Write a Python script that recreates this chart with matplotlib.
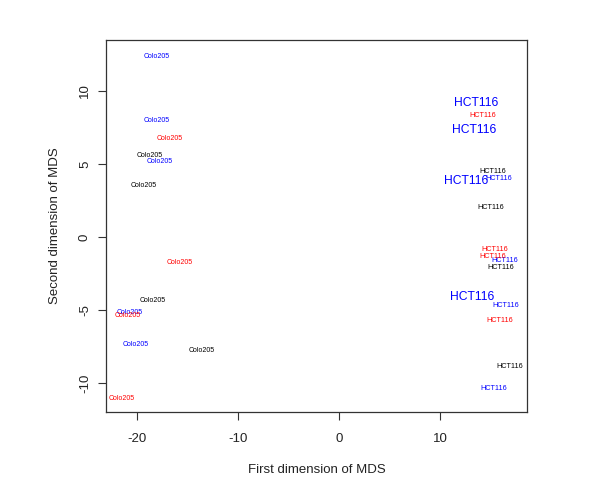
import matplotlib
matplotlib.use("Agg")
import matplotlib.pyplot as plt

plt.rcParams['font.family'] = ['Liberation Sans', 'DejaVu Sans']
plt.rcParams['axes.unicode_minus'] = False

# Colo205 samples
colo_x = [-18.1, -18.05, -17.8, -20.7, -20.1, -16.8, -15.8, -20.9, -21.5, -18.8, -19.4, -18.5, -13.6]
colo_y = [12.4, 8.0, 5.14, -5.2, -7.35, 6.76, -1.73, -5.4, -11.07, 5.6, 3.5, -4.38, -7.8]
colo_col = ['blue', 'blue', 'blue', 'blue', 'blue', 'red', 'red', 'red', 'red',
            'black', 'black', 'black', 'black']

# HCT116 samples
hct_x = [13.6, 13.4, 12.6, 13.2, 15.8, 16.4, 16.5, 15.3, 14.2, 15.45, 15.2, 15.9, 15.2, 15.0, 16.0, 16.9]
hct_y = [9.2, 7.3, 3.85, -4.09, 4.0, -1.62, -4.68, -10.36, 8.3, -0.89, -1.35, -5.73, 4.5, 2.0, -2.08, -8.9]
hct_col = ['blue', 'blue', 'blue', 'blue', 'blue', 'blue', 'blue', 'blue',
           'red', 'red', 'red', 'red', 'black', 'black', 'black', 'black']
hct_big = [True, True, True, True] + [False] * 12

x_ticks = [-20, -10, 0, 10]
y_ticks = [-10, -5, 0, 5, 10]

fig = plt.figure(figsize=(6, 5), dpi=100)
ax = fig.add_axes([0.177, 0.176, 0.701, 0.744])

for x, y, c in zip(colo_x, colo_y, colo_col):
    ax.text(x, y, "Colo205", color=c, fontsize=5, ha='center', va='center')
for x, y, c, b in zip(hct_x, hct_y, hct_col, hct_big):
    ax.text(x, y, "HCT116", color=c, fontsize=8.7 if b else 5.2, ha='center', va='center')

ax.set_xlim(-23.07, 18.6)
ax.set_ylim(-12.0, 13.5)
ax.set_xticks(x_ticks)
ax.set_yticks(y_ticks)
ax.set_yticklabels([str(v) for v in y_ticks], rotation=90, va='center')
ax.tick_params(direction='out', length=6, width=0.8, labelsize=9.5, colors='#333333', labelcolor='#222222')
ax.tick_params(axis='x', pad=9)
ax.tick_params(axis='y', pad=5)
ax.set_xlabel("First dimension of MDS", fontsize=9.5, labelpad=14, color='#222222')
ax.set_ylabel("Second dimension of MDS", fontsize=9.5, labelpad=13, color='#222222')
for s in ax.spines.values():
    s.set_linewidth(0.9)
    s.set_color('#333333')

fig.savefig("out.png", dpi=100)
